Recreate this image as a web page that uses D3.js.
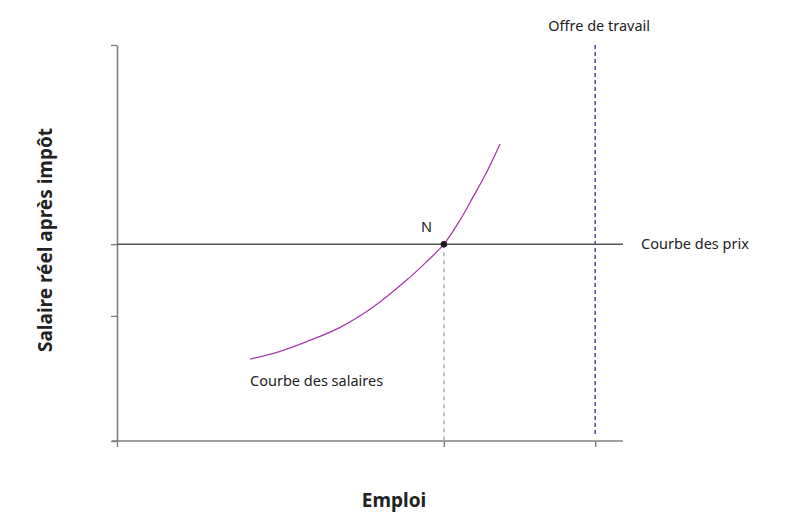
<!DOCTYPE html>
<html>
<head>
<meta charset="utf-8">
<script src="https://cdn.jsdelivr.net/npm/d3@7"></script>
<style>
  body { margin: 0; background: #fff; }
  text { font-family: "Noto Sans", sans-serif; fill: #222; }
</style>
</head>
<body>
<svg width="810" height="529"></svg>
<script>
// values (abstract units 0..100 on both axes)
const xTicks = [0, 64.6, 94.5];
const yTicks = [0, 31.6, 49.7, 100];
const wageX = [26.3, 30.9, 37.5, 44.1, 50.7, 57.3, 61.2, 64.6, 67.8, 70.4, 73.1, 75.7];
const wageY = [20.7, 22.1, 25.1, 28.7, 33.9, 40.7, 45.3, 49.7, 55.8, 61.7, 68.0, 75.0];
const priceLevel = 49.7;
const laborSupply = 94.5;
const pointN = [64.6, 49.7];

const svg = d3.select('svg');
const margin = { top: 45, right: 187, bottom: 88, left: 117 };
const width = +svg.attr('width');
const height = +svg.attr('height');
const innerWidth = width - margin.left - margin.right;
const innerHeight = height - margin.top - margin.bottom;

const xScale = d3.scaleLinear().domain([0, 100]).range([0, innerWidth]);
const yScale = d3.scaleLinear().domain([0, 100]).range([innerHeight, 0]);

const g = svg.append('g')
    .attr('transform', `translate(${margin.left}, ${margin.top})`);

//axes, grey with short ticks, no labels
const xAxis = g.append('g')
    .attr('transform', `translate(0, ${innerHeight})`)
    .call(d3.axisBottom(xScale).tickValues(xTicks).tickSize(6).tickFormat('').tickSizeOuter(0));
const yAxis = g.append('g')
    .call(d3.axisLeft(yScale).tickValues(yTicks).tickSize(6).tickFormat('').tickSizeOuter(0));
[xAxis, yAxis].forEach(a => {
    a.select('.domain').attr('stroke', '#808080').attr('stroke-width', 1.6);
    a.selectAll('.tick line').attr('stroke', '#808080').attr('stroke-width', 1.4);
});
// x axis line runs on past the last tick
xAxis.select('.domain').attr('d', `M-5,0H${xScale(100)}`);

//dashed drop line from N to the x axis
g.append('line')
    .attr('x1', xScale(pointN[0])).attr('x2', xScale(pointN[0]))
    .attr('y1', yScale(pointN[1])).attr('y2', yScale(0))
    .attr('stroke', '#9a9a9a').attr('stroke-width', 1.2)
    .attr('stroke-dasharray', '4,4');

//labour supply, dashed blue
g.append('line')
    .attr('x1', xScale(laborSupply)).attr('x2', xScale(laborSupply))
    .attr('y1', yScale(100)).attr('y2', yScale(1.5))
    .attr('stroke', '#4a5a9a').attr('stroke-width', 1.6)
    .attr('stroke-dasharray', '4,3');

//price setting curve
g.append('line')
    .attr('x1', xScale(0)).attr('x2', xScale(100))
    .attr('y1', yScale(priceLevel)).attr('y2', yScale(priceLevel))
    .attr('stroke', '#555').attr('stroke-width', 1.6);

//wage setting curve
const wage = wageX.map((x, i) => [x, wageY[i]]);
g.append('path')
    .datum(wage)
    .attr('fill', 'none')
    .attr('stroke', '#a23ea8')
    .attr('stroke-width', 1.3)
    .attr('d', d3.line()
        .x(d => xScale(d[0]))
        .y(d => yScale(d[1]))
        .curve(d3.curveCatmullRom.alpha(0.5)));

//equilibrium point
g.append('circle')
    .attr('cx', xScale(pointN[0]))
    .attr('cy', yScale(pointN[1]))
    .attr('r', 3.2)
    .attr('fill', '#1a1a1a');

g.append('text')
    .attr('x', xScale(pointN[0]) - 23)
    .attr('y', yScale(pointN[1]) - 12)
    .attr('font-size', 14.5)
    .text('N');

g.append('text')
    .attr('x', xScale(wageX[0]))
    .attr('y', yScale(wageY[0]) + 27)
    .attr('font-size', 14.5)
    .text('Courbe des salaires');

g.append('text')
    .attr('x', xScale(100) + 18)
    .attr('y', yScale(priceLevel) + 5)
    .attr('font-size', 14.5)
    .text('Courbe des prix');

g.append('text')
    .attr('x', xScale(laborSupply) + 4)
    .attr('y', -14)
    .attr('text-anchor', 'middle')
    .attr('font-size', 14.5)
    .text('Offre de travail');

//axis titles
svg.append('text')
    .attr('x', 394)
    .attr('y', 507)
    .attr('text-anchor', 'middle')
    .attr('font-size', 19)
    .attr('font-weight', 'bold')
    .text('Emploi');

svg.append('text')
    .attr('transform', 'translate(52, 240) rotate(-90)')
    .attr('text-anchor', 'middle')
    .attr('font-size', 19)
    .attr('font-weight', 'bold')
    .text('Salaire réel après impôt');
</script>
</body>
</html>
